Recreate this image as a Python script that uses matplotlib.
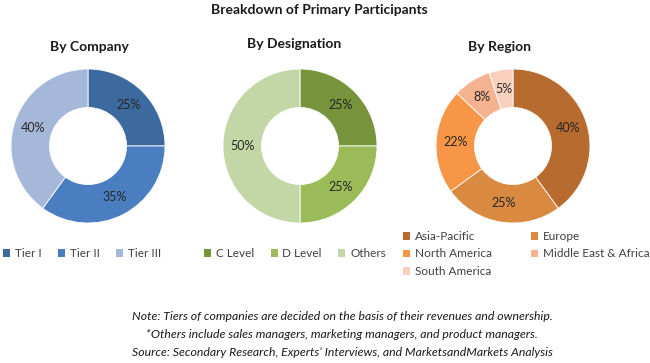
import numpy as np
import matplotlib.pyplot as plt
from matplotlib.patches import Patch

plt.rcParams['font.family'] = ['Lato', 'DejaVu Sans']

# ── DATA ─────────────────────────────────────────────────────────────────────
company_labels = ["Tier I", "Tier II", "Tier III"]
company_values = [25, 35, 40]
company_colors = ["#3D6A9E", "#4A7EC0", "#A6B8D9"]

desig_labels = ["C Level", "D Level", "Others"]
desig_values = [25, 25, 50]
desig_colors = ["#77933C", "#9BBB59", "#C3D6A6"]

region_labels = ["Asia-Pacific", "Europe", "North America",
                 "Middle East & Africa", "South America"]
region_values = [40, 25, 22, 8, 5]
region_colors = ["#B76B2F", "#DA8A40", "#F79646", "#F4B28E", "#F9D0BD"]

notes = [
    "Note: Tiers of companies are decided on the basis of their revenues and ownership.",
    "*Others include sales managers, marketing managers, and product managers.",
    "Source: Secondary Research, Experts\u2019 Interviews, and MarketsandMarkets Analysis",
]

W, H = 650, 363
fig = plt.figure(figsize=(W / 100, H / 100), dpi=100)
fig.patch.set_facecolor("white")

def px(x, y):
    # pixel (from top-left) -> figure fraction
    return x / W, 1 - y / H

def donut(cx, cy, r, values, colors, title, tx, ty):
    ax = fig.add_axes([(cx - r) / W, 1 - (cy + r) / H, 2 * r / W, 2 * r / H])
    wedges, _ = ax.pie(values, colors=colors, startangle=90, counterclock=False,
                       radius=1, wedgeprops=dict(width=0.5, linewidth=0.6, edgecolor="white"))
    for w, v in zip(wedges, values):
        ang = np.deg2rad((w.theta1 + w.theta2) / 2)
        ax.text(0.75 * np.cos(ang), 0.75 * np.sin(ang), f"{v}%",
                ha="center", va="center", fontsize=9, color="#262626")
    ax.set_xlim(-1, 1)
    ax.set_ylim(-1, 1)
    ax.set_aspect("equal")
    ax.axis("off")
    fig.text(*px(tx, ty), title, ha="center", va="center",
             fontsize=10, fontweight="bold", color="#1a1a1a")

donut(88, 146, 77, company_values, company_colors, "By Company", 89, 47)
donut(300, 146, 77, desig_values, desig_colors, "By Designation", 294, 44)
donut(513, 146, 77, region_values, region_colors, "By Region", 499, 47)

fig.text(*px(319, 10), "Breakdown of Primary Participants", ha="center", va="center",
         fontsize=10, fontweight="bold", color="#1a1a1a")

def legend(labels, colors, x, y, ncol, colsp):
    handles = [Patch(facecolor=c, edgecolor="none") for c in colors]
    fig.legend(handles, labels, loc="upper left", bbox_to_anchor=px(x, y),
               ncol=ncol, frameon=False, fontsize=8.5, handlelength=0.6,
               handleheight=0.6, handletextpad=0.4, columnspacing=colsp,
               labelspacing=0.5, borderaxespad=0, borderpad=0,
               labelcolor="#404040")

legend(company_labels, company_colors, 3, 248, 3, 1.4)
legend(desig_labels, desig_colors, 204, 248, 3, 1.4)

# region legend: two columns, filled row by row
handles = [Patch(facecolor=c, edgecolor="none") for c in region_colors]
order = [0, 2, 4, 1, 3]
fig.legend([handles[i] for i in order], [region_labels[i] for i in order],
           loc="upper left", bbox_to_anchor=px(403, 231), ncol=2, frameon=False,
           fontsize=8.5, handlelength=0.6, handleheight=0.6, handletextpad=0.4,
           columnspacing=3.3, labelspacing=0.55, borderaxespad=0, borderpad=0,
           labelcolor="#404040")

for i, line in enumerate(notes):
    fig.text(*px(342, 317 + 18 * i), line, ha="center", va="center",
             fontsize=8.8, style="italic", color="#1a1a1a")

fig.savefig("out.png", dpi=100, facecolor="white")
